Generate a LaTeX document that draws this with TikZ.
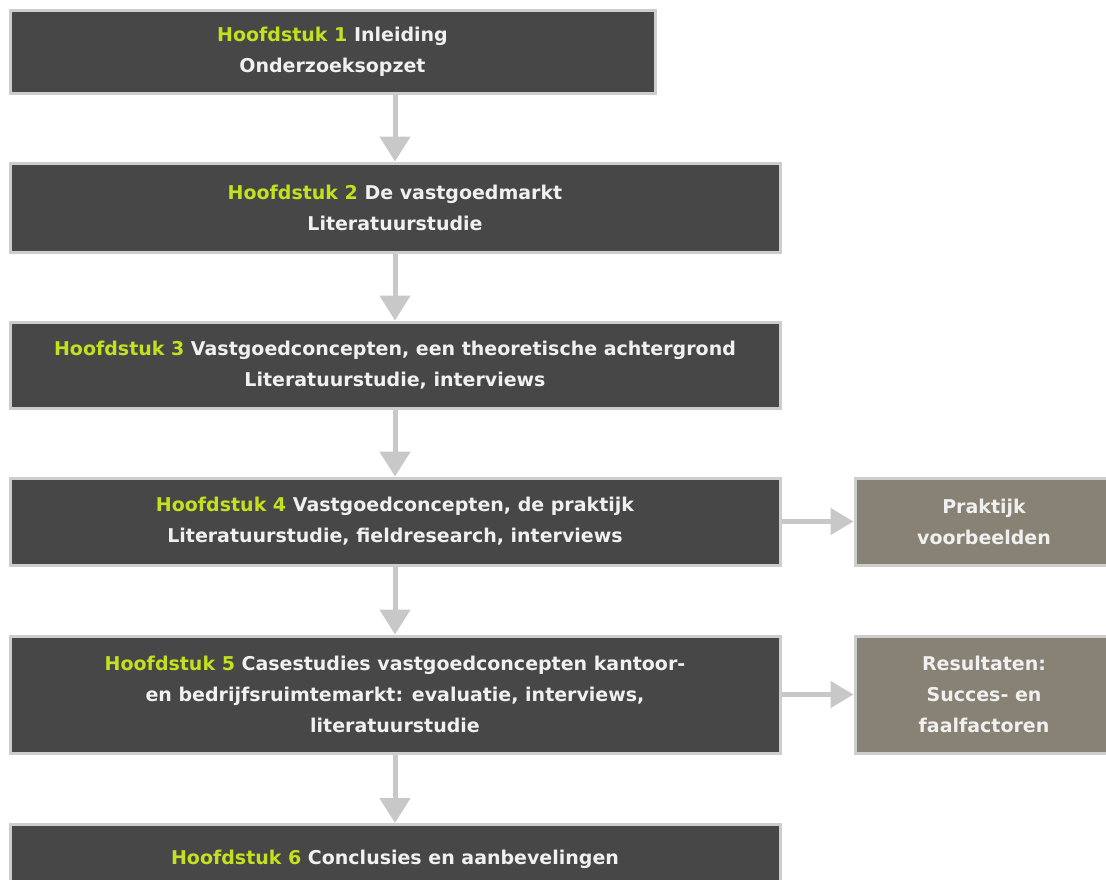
\documentclass[tikz,border=0pt]{standalone}
\usepackage{fontspec}
\setmainfont{DejaVu Sans}
\usetikzlibrary{arrows.meta}

\definecolor{boxdark}{HTML}{474747}
\definecolor{boxolive}{HTML}{878273}
\definecolor{boxedge}{HTML}{CDCDCD}
\definecolor{chapgreen}{HTML}{C4E01E}
\definecolor{arrowgray}{HTML}{C8C8C8}

\newcommand{\hfd}[1]{\textcolor{chapgreen}{Hoofdstuk #1}}

\tikzset{
    chapter/.style={draw=boxedge, line width=3pt, fill=boxdark, text=white!94!black,
        font=\bfseries\fontsize{19}{31}\selectfont, align=center,
        minimum width=770pt, inner sep=0pt},
    side/.style={chapter, fill=boxolive, minimum width=258pt},
    flow/.style={arrowgray, line width=5pt, -{Triangle[width=30pt,length=25pt]}},
    sideflow/.style={flow, -{Triangle[width=26pt,length=23pt]}}
}

\begin{document}
\begin{tikzpicture}[x=1pt, y=-1pt]
    \useasboundingbox (0,0) rectangle (1106,879);
    \clip (0,0) rectangle (1106,879);

    % Chapters, top to bottom
    \node[chapter, minimum width=645pt, minimum height=83pt] (h1) at (332.5,51.5)
        {\hfd{1} Inleiding\\Onderzoeksopzet};
    \node[chapter, minimum height=89pt] (h2) at (395,207.5)
        {\hfd{2} De vastgoedmarkt\\Literatuurstudie};
    \node[chapter, minimum height=86pt] (h3) at (395,365)
        {\hfd{3} Vastgoedconcepten, een theoretische achtergrond\\Literatuurstudie, interviews};
    \node[chapter, minimum height=87pt] (h4) at (395,521.5)
        {\hfd{4} Vastgoedconcepten, de praktijk\\Literatuurstudie, fieldresearch, interviews};
    \node[chapter, minimum height=117pt] (h5) at (395,694.5)
        {\hfd{5} Casestudies vastgoedconcepten kantoor-\\en bedrijfsruimtemarkt: evaluatie, interviews,\\literatuurstudie};
    \node[chapter, minimum height=70pt, anchor=north] (h6) at (395,823)
        {\hfd{6} Conclusies en aanbevelingen};

    % Side results
    \node[side, minimum height=87pt] (praktijk) at (984,521.5) {Praktijk\\voorbeelden};
    \node[side, minimum height=117pt] (resultaten) at (984,694.5) {Resultaten:\\Succes- en\\faalfactoren};

    % Arrows
    \draw[flow] (h1.south -| h2.north) -- (h2.north);
    \draw[flow] (h2.south) -- (h3.north);
    \draw[flow] (h3.south) -- (h4.north);
    \draw[flow] (h4.south) -- (h5.north);
    \draw[flow] (h5.south) -- (h6.north);
    \draw[sideflow] (h4.east) -- (praktijk.west);
    \draw[sideflow] (h5.east) -- (resultaten.west);
\end{tikzpicture}
\end{document}
